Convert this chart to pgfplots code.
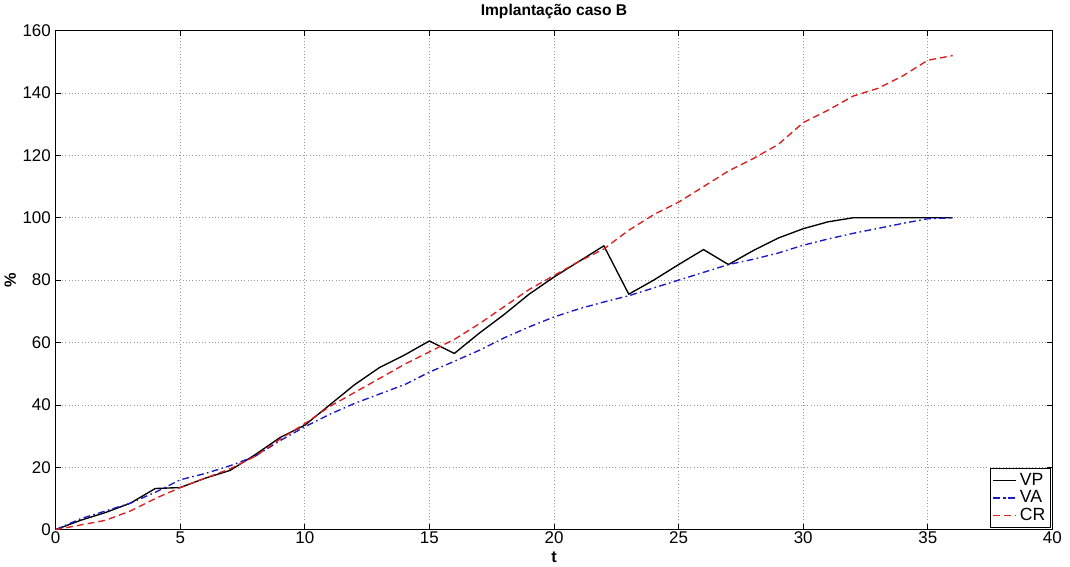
\documentclass[border=0pt]{standalone}
\usepackage{fontspec}
\setmainfont{Liberation Sans}
\usepackage{pgfplots}
\pgfplotsset{compat=1.18}

\definecolor{vacol}{rgb}{0.10,0.10,0.78}
\definecolor{crcol}{rgb}{0.86,0.12,0.12}

\begin{document}
\begin{tikzpicture}[x=1pt,y=1pt]
\begin{axis}[
    scale only axis,
    width=735pt, height=368pt,
    xmin=0, xmax=40, ymin=0, ymax=160,
    xtick={0,5,...,40}, ytick={0,20,...,160},
    tick align=inside,
    major tick length=4pt,
    tick style={black, line width=0.5pt},
    axis line style={black, line width=0.6pt},
    grid=major,
    grid style={dotted, gray!80, line width=0.6pt},
    tick label style={font=\fontsize{12.5}{13}\selectfont},
    xticklabel style={yshift=2pt},
    /pgf/number format/assume math mode=true,
    title={\textbf{Implantação caso B}},
    title style={font=\fontsize{11.5}{12}\selectfont, yshift=-1pt},
    xlabel={\textbf{t}},
    ylabel={\textbf{\%}},
    label style={font=\fontsize{12}{13}\selectfont},
    xlabel style={yshift=1pt},
    ylabel style={yshift=-2pt},
    legend cell align=left,
    legend style={at={(0.998,0.004)}, anchor=south east,
        font=\fontsize{13}{14}\selectfont, draw=black,
        inner sep=1.5pt, row sep=-1.5pt},
    legend image post style={line width=1.1pt},
]
\addplot[black, line width=1pt] coordinates {
(0,0) (1,3) (2,5.5) (3,8.5) (4,13.2) (5,13.5) (6,16.5) (7,19) (8,24)
(9,29.5) (10,33.5) (11,40) (12,46.5) (13,52) (14,56) (15,60.5) (16,56.5)
(17,63) (18,69) (19,75.5) (20,81) (21,86) (22,91) (23,75.5) (24,80)
(25,85) (26,89.8) (27,85) (28,89.5) (29,93.5) (30,96.5) (31,98.7)
(32,100) (33,100) (34,100) (35,100) (36,100)};
\addlegendentry{VP}
\addplot[vacol, line width=1pt, dash pattern=on 5pt off 2.5pt on 1.2pt off 2.5pt] coordinates {
(0,0) (1,3.5) (2,6) (3,8.5) (4,12) (5,16) (6,18) (7,20.5) (8,23.5)
(9,28.5) (10,33) (11,37) (12,40.5) (13,43.5) (14,46.5) (15,50.5) (16,54)
(17,57.5) (18,61.5) (19,65) (20,68.2) (21,70.8) (22,73) (23,75) (24,77.5)
(25,80) (26,82.5) (27,85) (28,86.7) (29,88.7) (30,91.2) (31,93.2)
(32,95) (33,96.6) (34,98.2) (35,99.7) (36,100)};
\addlegendentry{VA}
\addplot[crcol, line width=1pt, dash pattern=on 5pt off 3pt] coordinates {
(0,0) (1,1.5) (2,3) (3,6) (4,10) (5,13.5) (6,16.5) (7,19.5) (8,23.5)
(9,29) (10,34) (11,39.5) (12,44) (13,48.5) (14,53) (15,57) (16,61)
(17,66) (18,71.5) (19,77) (20,81.5) (21,86) (22,90) (23,96) (24,101)
(25,105) (26,110) (27,115) (28,119) (29,123.5) (30,130.5) (31,134.5)
(32,139) (33,141.5) (34,145.5) (35,150.5) (36,152)};
\addlegendentry{CR}
\end{axis}
\path (current axis.south east) ++(13pt,0) coordinate (r);
\path (r) -- ++(0,1pt);
\end{tikzpicture}
\end{document}
